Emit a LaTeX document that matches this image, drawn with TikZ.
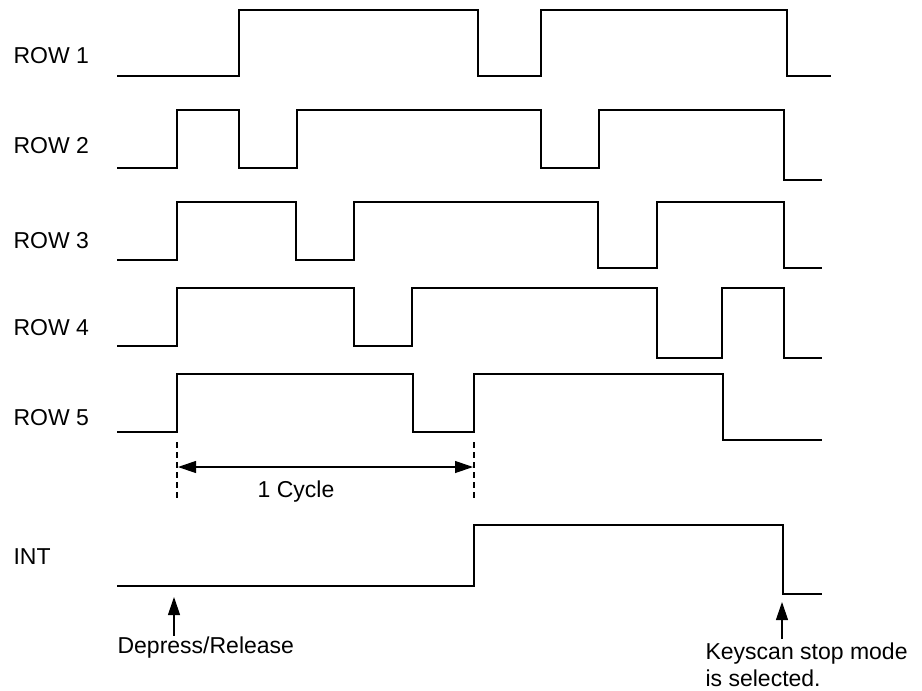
\documentclass[tikz,border=0pt]{standalone}
\usepackage{fontspec}
\setmainfont{Liberation Sans}
\usetikzlibrary{arrows.meta,positioning}

\begin{document}
\begin{tikzpicture}[x=1pt,y=-1pt,line width=1.2pt,
    every node/.style={font=\fontsize{23}{27}\selectfont,inner sep=0pt},
    sig/.style={anchor=west},
    note/.style={anchor=base west,align=left},
    cyc/.style={dash pattern=on 6pt off 4pt},
    ptr/.style={-{Triangle[length=18pt,width=12pt]}},
    dim/.style={{Triangle[length=18pt,width=12pt]}-{Triangle[length=18pt,width=12pt]}}]
  \useasboundingbox (0,0) rectangle (922,691);

  % signal names
  \node[sig] (row1) at (13,55.5) {ROW 1};
  \node[sig] (row2) at (13,146) {ROW 2};
  \node[sig] (row3) at (13,241) {ROW 3};
  \node[sig] (row4) at (13,328) {ROW 4};
  \node[sig] (row5) at (13,417.5) {ROW 5};
  \node[sig] (int) at (13,557) {INT};

  % waveforms
  \draw (117,76) -| (239,10) -| (478,76) -| (541,10) -| (787,76) -- (831,76);
  \draw (117,168) -| (177,110) -| (239,168) -| (297,110) -| (541,168) -| (599,110) -| (784,180) -- (822,180);
  \draw (117,260) -| (177,202) -| (296,260) -| (354,202) -| (598,268) -| (657,202) -| (784,268) -- (822,268);
  \draw (117,346) -| (177,288) -| (354,346) -| (412,288) -| (657,358) -| (722,288) -| (784,358) -- (822,358);
  \draw (117,432) -| (177,374) -| (413,432) -| (474,374) -| (723,440) -- (822,440);
  \draw (117,586) -| (474,525) -| (783,594) -- (822,594);

  % one cycle
  \coordinate (c0top) at (177,442);
  \coordinate (c0bot) at (177,501);
  \coordinate (c1top) at (474,442);
  \coordinate (c1bot) at (474,501);
  \draw[cyc] (c0top) -- (c0bot);
  \draw[cyc] (c1top) -- (c1bot);
  \coordinate (c0) at (178,467);
  \coordinate (c1) at (473,467);
  \draw[dim] (c0) -- (c1);
  \node (cycle) at (296,492) {1 Cycle};

  % events
  \node[note] (press) at (117,653) {Depress/Release};
  \coordinate (presstip) at (174,597);
  \draw[ptr] (presstip |- press.north) -- (presstip);

  \node[note] (stop) at (705,686) {Keyscan stop mode\\is selected.};
  \coordinate (stoptip) at (782,602);
  \coordinate (stopfoot) at (782,639);
  \draw[ptr] (stopfoot) -- (stoptip);
\end{tikzpicture}
\end{document}
